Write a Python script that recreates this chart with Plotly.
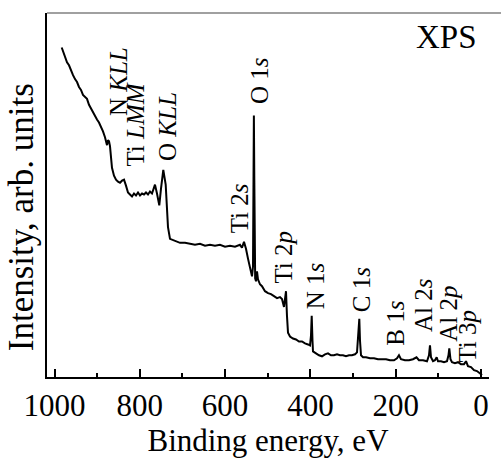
import plotly.graph_objects as go

# Binding energy (eV) and intensity (arb. units)
energy = [983.1, 980.1, 975.4, 970.7, 966.0, 961.3, 956.6, 951.9, 947.2, 942.6, 937.9, 933.2,
          928.5, 923.8, 919.1, 914.4, 909.7, 905.0, 900.4, 895.7, 891.0, 886.3, 881.6, 879.2,
          876.9, 874.6, 872.2, 869.9, 867.5, 865.2, 860.5, 855.8, 851.1, 846.4, 841.7, 837.0,
          832.4, 827.7, 823.0, 818.3, 813.6, 808.9, 804.2, 799.5, 794.8, 790.1, 785.5, 780.8,
          776.1, 771.4, 766.7, 764.4, 759.7, 754.3, 750.3, 744.9, 739.3, 736.9, 733.9, 729.2,
          717.5, 705.7, 694.0, 682.3, 670.6, 658.8, 647.1, 635.4, 623.7, 612.0, 600.2, 588.5,
          576.8, 565.1, 560.4, 555.7, 551.0, 546.3, 541.6, 539.3, 536.9, 534.6, 533.5, 532.5,
          531.5, 530.5, 529.5, 527.5, 525.2, 522.9, 518.2, 513.5, 506.4, 499.4, 492.4, 485.3,
          478.3, 471.3, 466.6, 461.9, 459.5, 457.2, 454.9, 452.5, 447.8, 440.8, 433.8, 426.7,
          419.7, 412.7, 405.6, 400.9, 398.6, 396.9, 395.1, 393.9, 386.9, 379.8, 372.8, 365.8,
          358.7, 351.7, 344.7, 337.6, 330.6, 323.6, 316.5, 309.5, 302.5, 295.4, 290.7, 287.2,
          285.3, 283.7, 281.3, 276.6, 269.6, 260.2, 250.9, 241.5, 232.1, 222.7, 213.4, 204.0,
          196.9, 192.3, 187.6, 178.2, 168.8, 159.4, 151.2, 145.4, 136.0, 126.6, 121.9, 119.6,
          117.2, 112.5, 107.9, 103.9, 100.8, 93.8, 86.7, 79.7, 76.2, 74.3, 71.5, 68.0,
          61.0, 53.9, 46.9, 39.8, 35.1, 30.5, 23.4, 16.4, 9.4, 2.3, -2.4]
intensity = [333, 329, 323, 318, 315, 309, 305, 301, 298, 293, 290, 285,
             283, 281, 275, 271, 267, 263, 260, 257, 253, 248, 242, 238,
             234, 239, 238, 233, 221, 211, 203, 199, 197, 196, 198, 199,
             193, 186, 184, 182, 185, 183, 186, 183, 185, 184, 186, 184,
             187, 185, 191, 194, 185, 173, 190, 209, 194, 168, 151, 139,
             137, 135, 135, 134, 133, 134, 132, 133, 132, 133, 131, 132,
             131, 133, 130, 136, 129, 119, 111, 104, 101, 111, 200, 264,
             200, 110, 99, 96, 106, 98, 93, 91, 86, 84, 83, 81,
             79, 80, 78, 70, 81, 86, 61, 44, 40, 38, 37, 35,
             35, 33, 32, 31, 41, 61, 36, 25, 23, 21, 20, 22,
             23, 21, 21, 22, 21, 21, 20, 21, 21, 22, 24, 41,
             58, 36, 21, 19, 19, 18, 18, 17, 17, 17, 16, 16,
             18, 21, 17, 16, 16, 17, 19, 16, 16, 15, 21, 31,
             19, 15, 16, 19, 15, 15, 14, 15, 21, 28, 17, 14,
             13, 14, 12, 12, 15, 10, 9, 6, 5, 3, 1]

# Peak assignments (rotated labels)
peak_labels = ["N <i>KLL</i>", "Ti <i>LMM</i>", "O <i>KLL</i>", "O 1<i>s</i>", "Ti 2<i>s</i>",
               "Ti 2<i>p</i>", "N 1<i>s</i>", "C 1<i>s</i>", "B 1<i>s</i>", "Al 2<i>s</i>",
               "Al 2<i>p</i>", "Ti 3<i>p</i>"]
label_energy = [851, 811, 735, 520.5, 567.4, 462, 389.2, 281.4, 199.3, 133.6, 75, 30.5]
label_intensity = [298, 255, 253, 299, 170, 121, 91, 88, 54, 71, 63, 41]

x_ticks = [1000, 800, 600, 400, 200, 0]

FONT = "Liberation Serif, Times New Roman, serif"

fig = go.Figure()
fig.add_trace(go.Scatter(x=energy, y=intensity, mode="lines",
                         line=dict(color="black", width=2), showlegend=False,
                         hoverinfo="skip"))

annotations = []
for t, e, i in zip(peak_labels, label_energy, label_intensity):
    annotations.append(dict(x=e, y=i, xref="x", yref="y", text=t, textangle=-90,
                            showarrow=False, xanchor="center", yanchor="middle",
                            font=dict(family=FONT, size=25, color="black")))
annotations.append(dict(x=0.903, y=0.935, xref="paper", yref="paper", text="XPS",
                        showarrow=False, xanchor="center", yanchor="middle",
                        font=dict(family=FONT, size=33, color="black")))
# y-axis title (placed as rotated text to match the reference position)
annotations.append(dict(x=-0.058, y=0.44, xref="paper", yref="paper",
                        text="Intensity, arb. units", textangle=-90, showarrow=False,
                        xanchor="center", yanchor="middle",
                        font=dict(family=FONT, size=35, color="black")))

fig.update_layout(
    width=501, height=459,
    margin=dict(l=47, r=12, t=13, b=77),
    paper_bgcolor="white", plot_bgcolor="white",
    font=dict(family=FONT, color="black"),
    annotations=annotations,
    shapes=[dict(type="line", xref="paper", yref="paper", x0=0, x1=1.03, y0=1, y1=1,
                 line=dict(color="#a0a0a0", width=2))],
    xaxis=dict(range=[1017.6, -18.8], showgrid=False, zeroline=False,
               showline=True, linecolor="black", linewidth=2,
               tickmode="array", tickvals=x_ticks, ticktext=[str(v) for v in x_ticks],
               ticks="inside", ticklen=8, tickwidth=2, tickcolor="black",
               minor=dict(ticks="inside", ticklen=4, tickwidth=2, tickcolor="black",
                          tickmode="array", tickvals=[900, 700, 500, 300, 100]),
               tickfont=dict(family=FONT, size=31, color="black"),
               ticklabelstandoff=0,
               title=dict(text="Binding energy, eV", standoff=2,
                          font=dict(family=FONT, size=31, color="black"))),
    yaxis=dict(range=[-1, 368], showgrid=False, zeroline=False,
               showline=True, linecolor="black", linewidth=2,
               showticklabels=False, ticks=""),
)

fig.write_html("out.html")
